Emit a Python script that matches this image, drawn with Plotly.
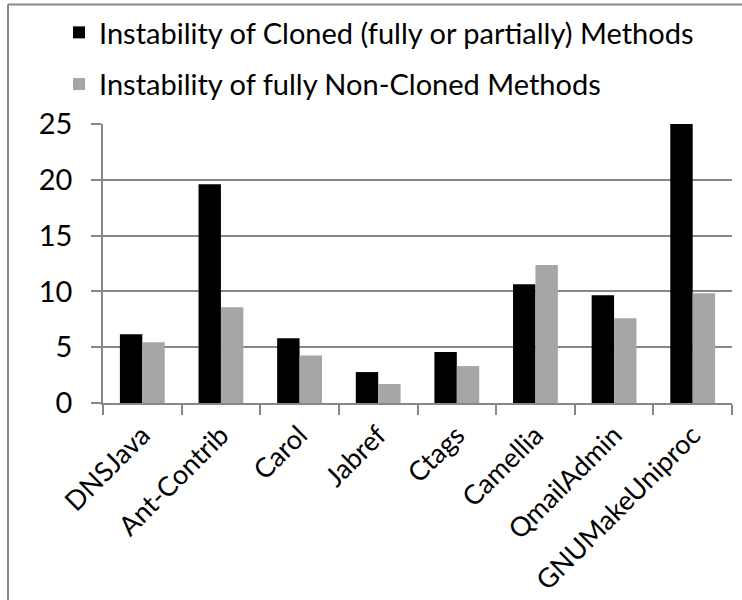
import plotly.graph_objects as go

categories = ["DNSJava", "Ant-Contrib", "Carol", "Jabref", "Ctags", "Camellia", "QmailAdmin", "GNUMakeUniproc"]
cloned = [6.17, 19.6, 5.81, 2.77, 4.56, 10.64, 9.66, 25.0]
non_cloned = [5.45, 8.59, 4.26, 1.7, 3.31, 12.37, 7.6, 9.84]
series_names = ["Instability of Cloned (fully or partially) Methods",
                "Instability of fully Non-Cloned Methods"]
y_ticks = [0, 5, 10, 15, 20, 25]

FONT = "Lato"
FS = 29
GRID = "#878787"

fig = go.Figure()
fig.add_trace(go.Bar(x=categories, y=cloned, name=series_names[0],
                     marker=dict(color="#000000", line=dict(width=0)), legendgroup="a"))
fig.add_trace(go.Bar(x=categories, y=non_cloned, name=series_names[1],
                     marker=dict(color="#a6a6a6", line=dict(width=0)), legendgroup="b"))

# plot area in pixels: x 103..732, y 124..403
L, R, T, B = 103, 732, 124, 403
W, H = R - L, B - T
def px(x):
    return (x - L) / W
def py(y):
    return (B - y) / H

fig.update_layout(
    width=742, height=600,
    margin=dict(l=L, r=742 - R, t=T, b=600 - B, pad=0, autoexpand=False),
    paper_bgcolor="white", plot_bgcolor="white",
    barmode="group", bargap=0.43, bargroupgap=0,
    font=dict(family=FONT, size=FS, color="black"),
    legend=dict(x=px(59), y=py(7), xanchor="left", yanchor="top",
                traceorder="grouped", tracegroupgap=11,
                font=dict(family=FONT, size=FS, color="black"),
                bgcolor="rgba(0,0,0,0)"),
    xaxis=dict(type="category", showline=True, linecolor=GRID, linewidth=1.5, automargin=False,
               ticks="outside", tickson="boundaries", ticklen=10, tickcolor=GRID, tickwidth=1.5,
               tickangle=-45, showgrid=False, ticklabelstandoff=4,
               tickfont=dict(family=FONT, size=27)),
    yaxis=dict(range=[0, 25], tickvals=y_ticks, showgrid=True, gridcolor=GRID, gridwidth=1.5,
               showline=True, linecolor=GRID, linewidth=1.5, zeroline=False, automargin=False,
               ticks="outside", ticklen=10, tickcolor=GRID, tickwidth=1.5,
               ticklabelstandoff=13, tickfont=dict(family=FONT, size=FS)),
    shapes=[
        dict(type="line", xref="paper", yref="paper", x0=px(8), x1=px(8), y0=py(4.5), y1=py(600),
             line=dict(color=GRID, width=2)),
        dict(type="line", xref="paper", yref="paper", x0=px(8), x1=px(742), y0=py(4.5), y1=py(4.5),
             line=dict(color=GRID, width=2)),
    ],
)

fig.write_html("out.html")
